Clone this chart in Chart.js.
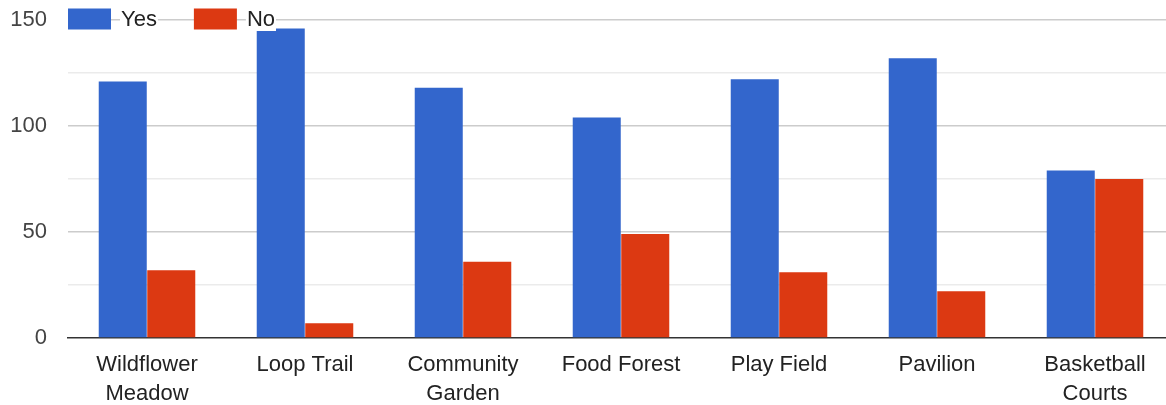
<!DOCTYPE html>
<html>
<head>
<meta charset="utf-8">
<script src="https://cdn.jsdelivr.net/npm/chart.js@4/dist/chart.umd.min.js"></script>
<style>
    html, body { margin: 0; padding: 0; background: #ffffff; overflow: hidden; }
    #wrap { width: 1174px; height: 405px; position: relative; }
</style>
</head>
<body>
<div id="wrap"><canvas id="parkChart"></canvas></div>
<script>
// Datos del gráfico
const categories = [
    ['Wildflower', 'Meadow'],
    'Loop Trail',
    ['Community', 'Garden'],
    'Food Forest',
    'Play Field',
    'Pavilion',
    ['Basketball', 'Courts']
];
const yesValues = [121, 146, 118, 104, 122, 132, 79];
const noValues = [32, 7, 36, 49, 31, 22, 75];
const yTicks = [0, 25, 50, 75, 100, 125, 150];
const yLabeled = [0, 50, 100, 150];

// Colores
const Colors = {
    yes: '#3366CC',
    no: '#DC3912',
    gridMajor: '#cccccc',
    gridMinor: '#ebebeb',
    axis: '#333333',
    tickY: '#444444',
    tickX: '#222222'
};

const FONT = 'Liberation Sans, Arial, sans-serif';

// Leyenda dibujada dentro del área del gráfico (encima de la línea de 150)
const insideLegend = {
    id: 'insideLegend',
    afterDatasetsDraw(chart) {
        const ctx = chart.ctx;
        const items = chart.data.datasets;
        let x = 68;
        const boxW = 43, boxH = 21, y = 19;
        ctx.save();
        ctx.font = '22px ' + FONT;
        ctx.textBaseline = 'middle';
        items.forEach((ds) => {
            ctx.fillStyle = ds.backgroundColor;
            ctx.fillRect(x, y - boxH / 2, boxW, boxH);
            const tx = x + boxW + 10;
            const w = ctx.measureText(ds.label).width;
            ctx.fillStyle = '#ffffff';
            ctx.fillRect(tx - 1, y - 11, w + 2, 23);
            ctx.fillStyle = '#222222';
            ctx.fillText(ds.label, tx, y + 1);
            x = tx + w + 37;
        });
        ctx.restore();
    }
};

function createBarDataset(label, data, color) {
    return {
        label: label,
        data: data,
        backgroundColor: color,
        borderWidth: 0,
        barPercentage: 0.99,
        categoryPercentage: 0.614
    };
}

const ctx = document.getElementById('parkChart');
const chart = new Chart(ctx, {
    type: 'bar',
    data: {
        labels: categories,
        datasets: [
            createBarDataset('Yes', yesValues, Colors.yes),
            createBarDataset('No', noValues, Colors.no)
        ]
    },
    options: {
        responsive: true,
        maintainAspectRatio: false,
        animation: false,
        layout: { padding: { top: 20, right: 0, left: 0, bottom: 0 } },
        plugins: {
            legend: { display: false },
            tooltip: { enabled: false }
        },
        scales: {
            x: {
                grid: { display: false },
                border: { display: true, color: Colors.axis, width: 1.5 },
                ticks: {
                    color: Colors.tickX,
                    padding: 4,
                    maxRotation: 0,
                    autoSkip: false,
                    font: { family: FONT, size: 22, lineHeight: 1.32 }
                },
                afterFit: (scale) => {
                    scale.height = 67;
                    scale.paddingTop = 0;
                }
            },
            y: {
                min: 0,
                max: 150,
                afterBuildTicks: (scale) => {
                    scale.ticks = yTicks.map(v => ({ value: v }));
                },
                border: { display: false },
                grid: {
                    drawTicks: false,
                    color: (c) => {
                        const v = c.tick ? c.tick.value : 0;
                        if (v === 0) return 'rgba(0,0,0,0)';
                        return yLabeled.includes(v) ? Colors.gridMajor : Colors.gridMinor;
                    },
                    lineWidth: 1.5
                },
                ticks: {
                    color: Colors.tickY,
                    padding: 21,
                    font: { family: FONT, size: 22 },
                    callback: (value) => yLabeled.includes(value) ? String(value) : ''
                },
                afterFit: (scale) => {
                    scale.width = 68;
                    scale.paddingTop = 0;
                    scale.paddingBottom = 0;
                }
            }
        }
    },
    plugins: [insideLegend]
});
</script>
</body>
</html>
